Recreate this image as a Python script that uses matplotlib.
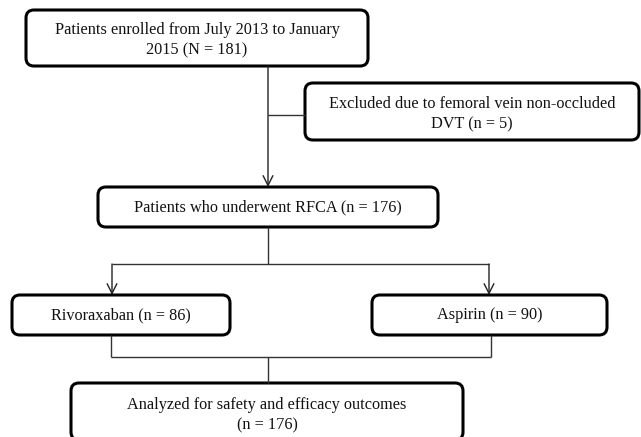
import matplotlib
matplotlib.use('Agg')
import matplotlib.pyplot as plt
from matplotlib.patches import FancyBboxPatch

plt.rcParams['font.family'] = ['Liberation Serif', 'DejaVu Serif']

# box texts
enrolled_txt = 'Patients enrolled from July 2013 to January\n2015 (N = 181)'
excluded_txt = 'Excluded due to femoral vein non-occluded\nDVT (n = 5)'
rfca_txt = 'Patients who underwent RFCA (n = 176)'
riva_txt = 'Rivoraxaban (n = 86)'
asp_txt = 'Aspirin (n = 90)'
final_txt = 'Analyzed for safety and efficacy outcomes\n(n = 176)'

# layout in pixel units (x0, y0, x1, y1), y going down
boxes = {
    'enrolled': (26, 10, 368, 66),
    'excluded': (305, 83, 639, 140),
    'rfca': (98, 187, 438, 227),
    'riva': (12, 295, 230, 335),
    'asp': (372, 295, 607, 335),
    'final': (71, 383, 463, 440),
}
texts = {'enrolled': enrolled_txt, 'excluded': excluded_txt, 'rfca': rfca_txt,
         'riva': riva_txt, 'asp': asp_txt, 'final': final_txt}

fig = plt.figure(figsize=(6.41, 4.37), dpi=100)
ax = fig.add_axes([0, 0, 1, 1])
ax.set_xlim(0, 641)
ax.set_ylim(437, 0)
ax.axis('off')

def draw_box(key, text_y=None):
    x0, y0, x1, y1 = boxes[key]
    p = FancyBboxPatch((x0, y0), x1 - x0, y1 - y0,
                       boxstyle='round,pad=0,rounding_size=8',
                       fc='white', ec='black', lw=2.2)
    ax.add_patch(p)
    ty = (y0 + y1) / 2 if text_y is None else text_y
    ax.text((x0 + x1) / 2, ty, texts[key], ha='center', va='center',
            fontsize=11.7, linespacing=1.4, color='#111111')

def line(xs, ys):
    ax.plot(xs, ys, color='#333333', lw=1.0, solid_capstyle='butt')

def arrow(x, y0, y1):
    ax.annotate('', xy=(x, y1), xytext=(x, y0),
                arrowprops=dict(arrowstyle='->,head_length=0.7,head_width=0.35',
                                color='#222222', lw=1.0, shrinkA=0, shrinkB=0))

# connectors
arrow(268, 66, 187)
line([268, 305], [115, 115])
line([268, 268], [227, 264])
line([112, 489], [264, 264])
arrow(112, 264, 295)
arrow(489, 264, 295)
line([111, 111], [335, 357])
line([491, 491], [335, 357])
line([111, 491], [357, 357])
line([268, 268], [357, 383])

draw_box('enrolled', text_y=40)
draw_box('excluded', text_y=114)
draw_box('rfca')
draw_box('riva')
draw_box('asp')
draw_box('final', text_y=415)

plt.savefig('out.png', dpi=100)
